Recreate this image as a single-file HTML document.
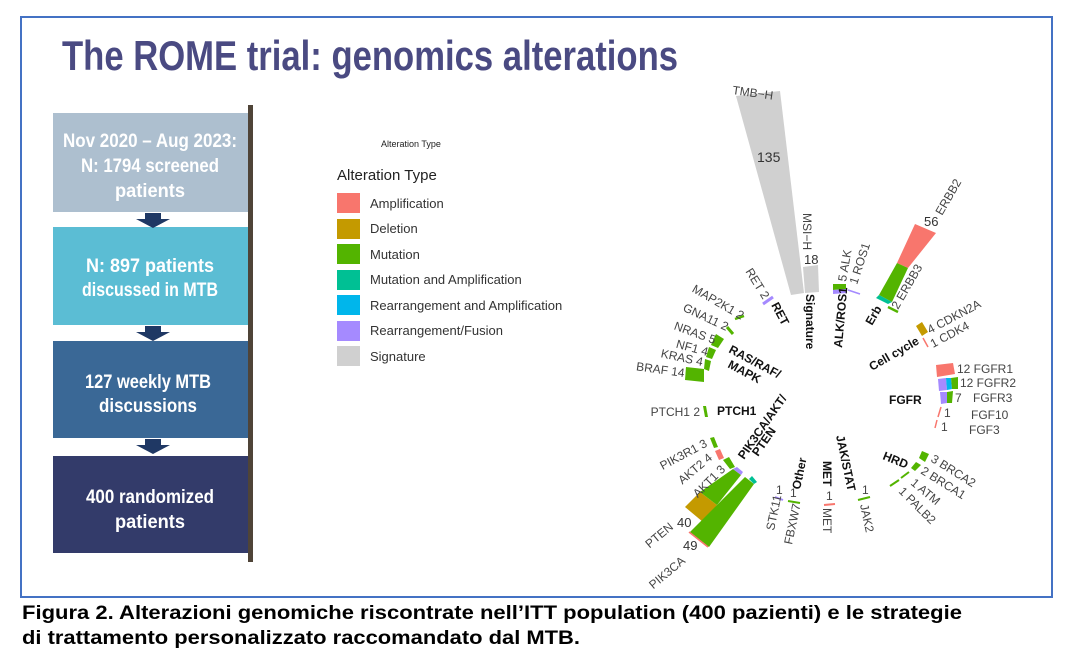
<!DOCTYPE html>
<html><head><meta charset="utf-8"><style>
html,body{margin:0;padding:0;background:#fff;}
svg{display:block;font-family:"Liberation Sans",sans-serif;}
.g{font-size:12px;fill:#444;}
.b{font-size:12px;font-weight:bold;fill:#111;}
.w{font-size:19px;font-weight:bold;fill:#fff;}
.l{font-size:13px;fill:#333;}
</style></head><body>
<svg width="1073" height="660" viewBox="0 0 1073 660" xmlns="http://www.w3.org/2000/svg">
<rect x="21" y="17" width="1031" height="580" fill="#fff" stroke="#4472c4" stroke-width="2"/>
<text x="62" y="70" font-size="42" font-weight="bold" fill="#4a4a82" textLength="616" lengthAdjust="spacingAndGlyphs">The ROME trial: genomics alterations</text>

<rect x="248" y="105" width="5" height="457" fill="#4f4438"/>
<rect x="53" y="113" width="195" height="99" fill="#adbfcf"/>
<rect x="53" y="227" width="195" height="98" fill="#5bbdd4"/>
<rect x="53" y="341" width="195" height="97" fill="#3a6896"/>
<rect x="53" y="456" width="195" height="97" fill="#333b6a"/>
<g fill="#1f3864">
<path d="M145 213h16v6h9l-17 9-17-9h9z"/>
<path d="M145 326h16v6h9l-17 9-17-9h9z"/>
<path d="M145 439h16v6h9l-17 9-17-9h9z"/>
</g>
<g text-anchor="middle">
<text class="w" x="150" y="147" textLength="174" lengthAdjust="spacingAndGlyphs">Nov 2020 – Aug 2023:</text>
<text class="w" x="150" y="172" textLength="138" lengthAdjust="spacingAndGlyphs">N: 1794 screened</text>
<text class="w" x="150" y="197" textLength="70" lengthAdjust="spacingAndGlyphs">patients</text>
<text class="w" x="150" y="272" textLength="128" lengthAdjust="spacingAndGlyphs">N: 897 patients</text>
<text class="w" x="150" y="296" textLength="136" lengthAdjust="spacingAndGlyphs">discussed in MTB</text>
<text class="w" x="148" y="388" textLength="126" lengthAdjust="spacingAndGlyphs">127 weekly MTB</text>
<text class="w" x="148" y="412" textLength="98" lengthAdjust="spacingAndGlyphs">discussions</text>
<text class="w" x="150" y="503" textLength="128" lengthAdjust="spacingAndGlyphs">400 randomized</text>
<text class="w" x="150" y="528" textLength="70" lengthAdjust="spacingAndGlyphs">patients</text>
</g>

<text x="381" y="147" font-size="9" fill="#222">Alteration Type</text>
<text x="337" y="180" font-size="15" fill="#222">Alteration Type</text>
<rect x="337" y="193" width="23" height="20" fill="#f8766d"/>
<rect x="337" y="219" width="23" height="20" fill="#c49a00"/>
<rect x="337" y="244" width="23" height="20" fill="#53b400"/>
<rect x="337" y="270" width="23" height="20" fill="#00c094"/>
<rect x="337" y="295" width="23" height="20" fill="#00b6eb"/>
<rect x="337" y="321" width="23" height="20" fill="#a58aff"/>
<rect x="337" y="346" width="23" height="20" fill="#d0d0d0"/>
<text class="l" x="370" y="208">Amplification</text>
<text class="l" x="370" y="233">Deletion</text>
<text class="l" x="370" y="259">Mutation</text>
<text class="l" x="370" y="284">Mutation and Amplification</text>
<text class="l" x="370" y="310">Rearrangement and Amplification</text>
<text class="l" x="370" y="335">Rearrangement/Fusion</text>
<text class="l" x="370" y="361">Signature</text>

<polygon points="736,96 780,91 804,293 791,295" fill="#d0d0d0"/>
<polygon points="803,267 818,265 819,292 805,293" fill="#d0d0d0"/>
<polygon points="833,284 846,284 846,289 833,290" fill="#53b400"/>
<polygon points="833,290 846,289 847,293 833,294" fill="#a58aff"/>
<line x1="848" y1="290" x2="860" y2="294" stroke="#a58aff" stroke-width="1.5"/>
<polygon points="897,263 908,268 936,233 915,224" fill="#f8766d"/>
<polygon points="879,295 892,302 908,268 897,263" fill="#53b400"/>
<polygon points="876,298 888,304 892,302 879,295" fill="#00c094"/>
<line x1="888" y1="307" x2="898" y2="312" stroke="#53b400" stroke-width="2.5"/>
<polygon points="916,326 922,322 928,332 922,336" fill="#c49a00"/>
<line x1="923" y1="338" x2="928" y2="347" stroke="#f8766d" stroke-width="1.5"/>
<polygon points="936,365 953,363 955,374 937,377" fill="#f8766d"/>
<polygon points="938,379 946,378 947,390 939,391" fill="#a58aff"/>
<polygon points="946,378 951,378 952,389 947,390" fill="#00b6eb"/>
<polygon points="951,378 958,377 958,389 952,389" fill="#53b400"/>
<polygon points="940,392 947,392 947,403 941,404" fill="#a58aff"/>
<polygon points="947,392 953,391 952,403 947,403" fill="#53b400"/>
<line x1="941" y1="407" x2="938" y2="417" stroke="#f8766d" stroke-width="1.5"/>
<line x1="937" y1="420" x2="935" y2="428" stroke="#f8766d" stroke-width="1.5"/>
<polygon points="922,451 929,454 925,462 919,458" fill="#53b400"/>
<polygon points="916,462 921,465 915,471 911,468" fill="#53b400"/>
<line x1="909" y1="472" x2="901" y2="478" stroke="#53b400" stroke-width="2"/>
<line x1="899" y1="480" x2="890" y2="486" stroke="#53b400" stroke-width="2"/>
<line x1="858" y1="500" x2="870" y2="497" stroke="#53b400" stroke-width="2"/>
<line x1="824" y1="505" x2="835" y2="504" stroke="#f8766d" stroke-width="2"/>
<line x1="775" y1="497" x2="783" y2="500" stroke="#a58aff" stroke-width="2"/>
<line x1="788" y1="501" x2="800" y2="503" stroke="#53b400" stroke-width="2"/>
<polygon points="685,507 703,522 717,505 700,492" fill="#c49a00"/>
<polygon points="700,492 717,505 741,475 733,469" fill="#53b400"/>
<polygon points="733,469 741,475 743,472 737,467" fill="#a58aff"/>
<polygon points="690,532 709,547 754,484 745,477" fill="#53b400"/>
<polygon points="749,479 754,484 757,482 752,476" fill="#00c094"/>
<line x1="689" y1="532" x2="708" y2="547" stroke="#f8766d" stroke-width="1.5"/>
<polygon points="723,460 729,457 735,467 730,469" fill="#53b400"/>
<polygon points="715,451 720,449 724,458 719,460" fill="#f8766d"/>
<polygon points="710,438 714,437 718,447 714,448" fill="#53b400"/>
<polygon points="703,406 706,406 708,417 705,417" fill="#53b400"/>
<polygon points="686,367 704,369 704,382 685,380" fill="#53b400"/>
<polygon points="705,359 711,361 709,371 704,369" fill="#53b400"/>
<polygon points="709,347 716,350 712,359 706,357" fill="#53b400"/>
<polygon points="716,334 724,339 718,348 711,345" fill="#53b400"/>
<line x1="727" y1="327" x2="733" y2="334" stroke="#53b400" stroke-width="3"/>
<line x1="735" y1="319" x2="744" y2="316" stroke="#53b400" stroke-width="2.5"/>
<line x1="763" y1="304" x2="773" y2="297" stroke="#a58aff" stroke-width="3"/>

<text class="g" x="732" y="94" transform="rotate(8 732 94)">TMB−H</text>
<text x="757" y="162" font-size="14" fill="#333">135</text>
<text class="g" x="803" y="213" transform="rotate(90 803 213)">MSI−H</text>
<text x="804" y="264" font-size="13" fill="#333">18</text>
<text class="b" x="806" y="294" transform="rotate(90 806 294)">Signature</text>
<text class="g" x="846" y="282" transform="rotate(-80 846 282)">5  ALK</text>
<text class="g" x="857" y="285" transform="rotate(-72 857 285)">1  ROS1</text>
<text class="b" x="842" y="348" transform="rotate(-85 842 348)">ALK/ROS1</text>
<text x="924" y="226" font-size="13" fill="#333">56</text>
<text class="g" x="942" y="216" transform="rotate(-60 942 216)">ERBB2</text>
<text class="g" x="898" y="310" transform="rotate(-60 898 310)">2  ERBB3</text>
<text class="b" x="872" y="326" transform="rotate(-60 872 326)">Erb</text>
<text class="g" x="930" y="334" transform="rotate(-28 930 334)">4  CDKN2A</text>
<text class="g" x="933" y="348" transform="rotate(-28 933 348)">1  CDK4</text>
<text class="b" x="872" y="371" transform="rotate(-30 872 371)">Cell cycle</text>
<text class="g" x="957" y="373">12 FGFR1</text>
<text class="g" x="960" y="387">12 FGFR2</text>
<text class="g" x="955" y="402">7</text><text class="g" x="973" y="402">FGFR3</text>
<text class="g" x="944" y="417">1</text><text class="g" x="971" y="419">FGF10</text>
<text class="g" x="941" y="431">1</text><text class="g" x="969" y="434">FGF3</text>
<text class="b" x="889" y="404">FGFR</text>
<text class="b" x="882" y="459" transform="rotate(22 882 459)">HRD</text>
<text class="g" x="930" y="461" transform="rotate(32 930 461)">3 BRCA2</text>
<text class="g" x="920" y="473" transform="rotate(32 920 473)">2 BRCA1</text>
<text class="g" x="910" y="484" transform="rotate(40 910 484)">1  ATM</text>
<text class="g" x="898" y="492" transform="rotate(45 898 492)">1  PALB2</text>
<text class="b" x="836" y="436" transform="rotate(78 836 436)">JAK/STAT</text>
<text class="g" x="862" y="494">1</text>
<text class="g" x="860" y="505" transform="rotate(78 860 505)">JAK2</text>
<text class="b" x="823" y="461" transform="rotate(90 823 461)">MET</text>
<text class="g" x="826" y="500">1</text>
<text class="g" x="823" y="508" transform="rotate(90 823 508)">MET</text>
<text class="b" x="800" y="490" transform="rotate(-78 800 490)">Other</text>
<text class="g" x="776" y="494">1</text>
<text class="g" x="790" y="497">1</text>
<text class="g" x="774" y="531" transform="rotate(-78 774 531)">STK11</text>
<text class="g" x="792" y="545" transform="rotate(-78 792 545)">FBXW7</text>
<text class="b" x="744" y="460" transform="rotate(-55 744 460)">PIK3CA/AKT/</text>
<text class="b" x="758" y="457" transform="rotate(-55 758 457)">PTEN</text>
<text class="g" x="708" y="446" text-anchor="end" transform="rotate(-28 708 446)">PIK3R1 3</text>
<text class="g" x="713" y="459" text-anchor="end" transform="rotate(-40 713 459)">AKT2 4</text>
<text class="g" x="726" y="470" transform="rotate(-45 726 470)" text-anchor="end">AKT1 3</text>
<text x="677" y="527" font-size="13" fill="#333">40</text>
<text class="g" x="674" y="528" text-anchor="end" transform="rotate(-40 674 528)">PTEN</text>
<text x="683" y="550" font-size="13" fill="#333">49</text>
<text class="g" x="686" y="562" text-anchor="end" transform="rotate(-40 686 562)">PIK3CA</text>
<text class="g" x="700" y="416" text-anchor="end">PTCH1 2</text>
<text class="b" x="717" y="415">PTCH1</text>
<text class="g" x="741" y="320" text-anchor="end" transform="rotate(30 741 320)">MAP2K1 2</text>
<text class="g" x="726" y="331" text-anchor="end" transform="rotate(25 726 331)">GNA11 2</text>
<text class="g" x="714" y="344" text-anchor="end" transform="rotate(20 714 344)">NRAS 5</text>
<text class="g" x="707" y="356" text-anchor="end" transform="rotate(15 707 356)">NF1  4</text>
<text class="g" x="702" y="366" text-anchor="end" transform="rotate(12 702 366)">KRAS 4</text>
<text class="g" x="684" y="377" text-anchor="end" transform="rotate(8 684 377)">BRAF 14</text>
<text class="b" x="728" y="352" transform="rotate(28 728 352)">RAS/RAF/</text>
<text class="b" x="727" y="367" transform="rotate(28 727 367)">MAPK</text>
<text class="g" x="763" y="300" text-anchor="end" transform="rotate(58 763 300)">RET 2</text>
<text class="b" x="771" y="305" transform="rotate(62 771 305)">RET</text>

<text x="22" y="619" font-size="19" font-weight="bold" fill="#000" textLength="940" lengthAdjust="spacingAndGlyphs">Figura 2. Alterazioni genomiche riscontrate nell’ITT population (400 pazienti) e le strategie</text>
<text x="22" y="644" font-size="19" font-weight="bold" fill="#000" textLength="558" lengthAdjust="spacingAndGlyphs">di trattamento personalizzato raccomandato dal MTB.</text>
</svg>
</body></html>
